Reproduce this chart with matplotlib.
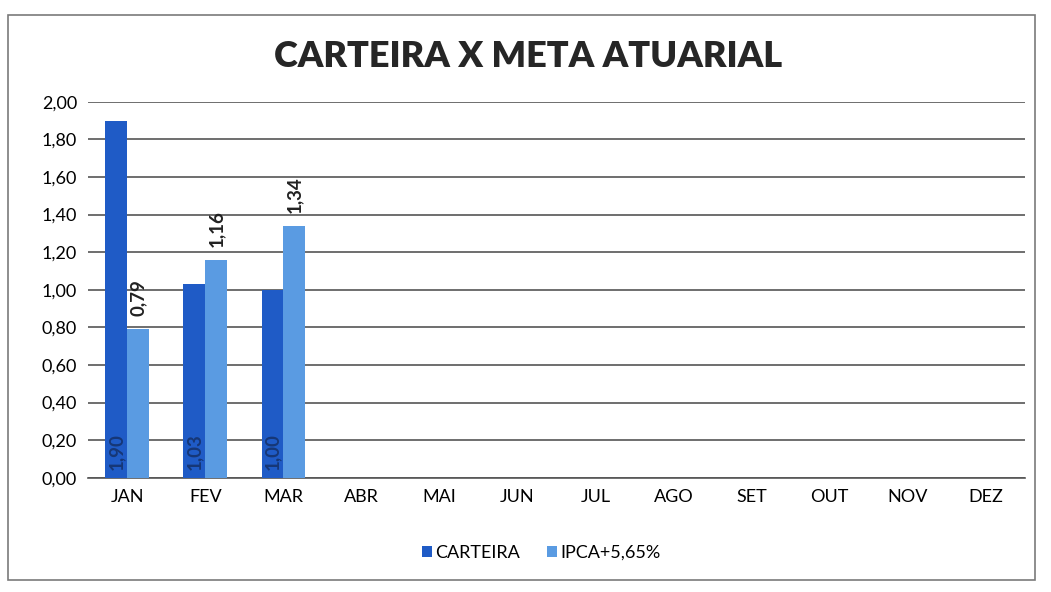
import matplotlib.pyplot as plt
from matplotlib.patches import Rectangle
import numpy as np

meses = ["JAN", "FEV", "MAR", "ABR", "MAI", "JUN", "JUL", "AGO", "SET", "OUT", "NOV", "DEZ"]
carteira = [1.90, 1.03, 1.00]
ipca = [0.79, 1.16, 1.34]
yticks = [0.0, 0.2, 0.4, 0.6, 0.8, 1.0, 1.2, 1.4, 1.6, 1.8, 2.0]

cor_carteira = "#1F5BC6"
cor_ipca = "#5A9BE2"

plt.rcParams['font.family'] = ['Lato', 'DejaVu Sans']

fig = plt.figure(figsize=(10.51, 5.92), dpi=100)
ax = fig.add_axes([0.084, 0.193, 0.891, 0.635])

# moldura do grafico
fig.patches.append(Rectangle((0.008, 0.02), 0.977, 0.955, transform=fig.transFigure,
                             fill=False, edgecolor="#7a7a7a", linewidth=1.2))

x = np.arange(len(meses))
w = 0.28
xc = x[:len(carteira)]
b1 = ax.bar(xc - w / 2, carteira, w, color=cor_carteira, label="CARTEIRA", zorder=3)
b2 = ax.bar(xc + w / 2, ipca, w, color=cor_ipca, label="IPCA+5,65%", zorder=3)

# rotulos de dados
for xi, v in zip(xc - w / 2, carteira):
    ax.text(xi, 0.04, f"{v:.2f}".replace(".", ","), rotation=90, ha="center", va="bottom",
            fontsize=13.5, fontweight="bold", color="#163777", zorder=4)
for xi, v in zip(xc + w / 2, ipca):
    ax.text(xi, v + 0.07, f"{v:.2f}".replace(".", ","), rotation=90, ha="center", va="bottom",
            fontsize=13.5, fontweight="bold", color="#222222", zorder=4)

ax.set_xlim(-0.5, len(meses) - 0.5)
ax.set_ylim(0, 2.0)
ax.set_yticks(yticks)
ax.set_yticklabels([f"{t:.2f}".replace(".", ",") for t in yticks], fontsize=13)
ax.set_xticks(x)
ax.set_xticklabels(meses, fontsize=13)
ax.tick_params(length=0, pad=8)
ax.grid(axis="y", color="#555555", linewidth=1.2, zorder=0)
for s in ["left", "right", "top"]:
    ax.spines[s].set_visible(False)
ax.spines["bottom"].set_color("#555555")
ax.spines["bottom"].set_linewidth(1.2)

fig.text(0.502, 0.905, "CARTEIRA X META ATUARIAL", ha="center", va="center",
         fontsize=26, fontweight="heavy", color="#262626")

fig.legend(handles=[b1, b2], loc="center", bbox_to_anchor=(0.515, 0.066), ncol=2,
           frameon=False, fontsize=13, handlelength=0.55, handleheight=0.55,
           handletextpad=0.2, columnspacing=1.5)

fig.savefig("out.png", dpi=100)
